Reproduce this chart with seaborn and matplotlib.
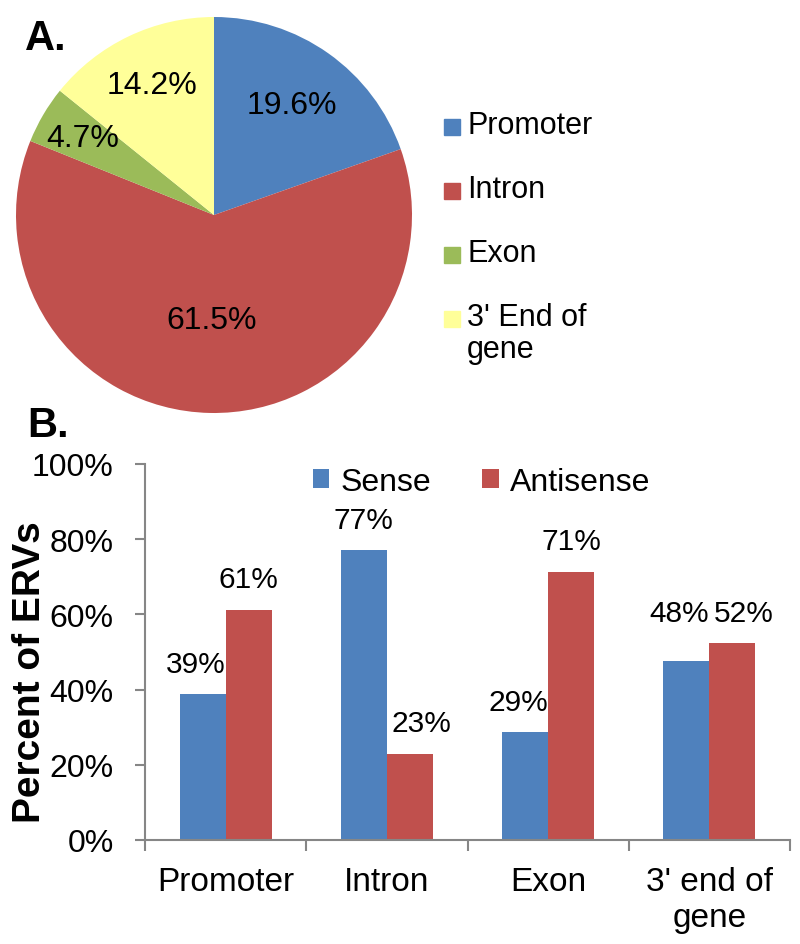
import matplotlib
matplotlib.use('Agg')
import matplotlib.pyplot as plt
from matplotlib.patches import Rectangle
from matplotlib.ticker import PercentFormatter, FixedLocator
import seaborn as sns
import pandas as pd
import numpy as np

# panel A: genomic location of ERVs
regions = ['Promoter', 'Intron', 'Exon', "3' End of\ngene"]
region_pct = [19.6, 61.5, 4.7, 14.2]
region_colors = ['#4F81BD', '#C0504D', '#9BBB59', '#FFFF99']

# panel B: orientation relative to gene
categories = ['Promoter', 'Intron', 'Exon', "3' end of\ngene"]
sense = [38.7, 77.0, 28.6, 47.6]
antisense = [61.3, 23.0, 71.4, 52.4]
strands = ['Sense', 'Antisense']
strand_colors = ['#4F81BD', '#C0504D']

sns.set_theme(style='white')
plt.rcParams['font.family'] = ['Liberation Sans', 'DejaVu Sans']
plt.rcParams['text.color'] = 'black'
plt.rcParams['axes.labelcolor'] = 'black'
plt.rcParams['xtick.color'] = 'black'
plt.rcParams['ytick.color'] = 'black'

W, H = 800, 945
fig = plt.figure(figsize=(8, 9.45), dpi=100)


def px(x, y, w, h):
    # pixel box (from top left) -> figure fraction rect
    return [x / W, 1 - (y + h) / H, w / W, h / H]


# ---- pie ----
ax_pie = fig.add_axes(px(16, 18, 396, 396))
wedges, _, autotexts = ax_pie.pie(region_pct, colors=region_colors, startangle=90,
                                  counterclock=False, autopct='%.1f%%', pctdistance=0.68,
                                  wedgeprops=dict(linewidth=0),
                                  textprops=dict(fontsize=23, color='black'))
label_r = [0.68, 0.53, 0.77, 0.73]
for w, t, r in zip(wedges, autotexts, label_r):
    ang = np.deg2rad((w.theta1 + w.theta2) / 2)
    t.set_position((r * np.cos(ang), r * np.sin(ang)))
ax_pie.set_xlim(-1, 1)
ax_pie.set_ylim(-1, 1)
ax_pie.set_aspect('equal')

# pie legend, drawn by hand so the square sits on the first line
row_y = 128
for name, col in zip(regions, region_colors):
    fig.patches.append(Rectangle((444 / W, 1 - (row_y + 8) / H), 16 / W, 16 / H,
                                 transform=fig.transFigure, color=col))
    fig.text(467 / W, 1 - (row_y - 17) / H, name, fontsize=22, va='top', ha='left',
             linespacing=1.1)
    row_y += 64

# ---- bars ----
df = pd.DataFrame({'region': categories * 2,
                   'strand': [strands[0]] * 4 + [strands[1]] * 4,
                   'pct': sense + antisense})

ax = fig.add_axes(px(145, 465, 645, 376))
sns.barplot(data=df, x='region', y='pct', hue='strand', palette=strand_colors,
            width=0.57, saturation=1, errorbar=None, linewidth=0, ax=ax)

ax.set_ylim(0, 100)
ax.set_xlim(-0.5, 3.5)
ax.set_yticks(range(0, 101, 20))
ax.yaxis.set_major_formatter(PercentFormatter(xmax=100, decimals=0))
ax.set_xlabel('')
ax.set_ylabel('')

gray = '#868686'
for s in ['top', 'right']:
    ax.spines[s].set_visible(False)
for s in ['left', 'bottom']:
    ax.spines[s].set_color(gray)
    ax.spines[s].set_linewidth(1.5)

ax.tick_params(axis='y', left=True, length=7.5, width=1.5, color=gray, pad=15,
               labelsize=23, labelcolor='black')
ax.xaxis.set_minor_locator(FixedLocator([-0.5, 0.5, 1.5, 2.5, 3.5]))
ax.tick_params(axis='x', which='minor', bottom=True, length=8, width=1.5, color=gray)
ax.tick_params(axis='x', which='major', bottom=True, length=0, pad=19,
               labelsize=24, labelcolor='black')

# value labels
lab_fs = 21.5
for bs, ba in zip(ax.containers[0], ax.containers[1]):
    hs, ha_ = bs.get_height(), ba.get_height()
    if abs(hs - ha_) < 10:
        y = max(hs, ha_) + 8
        ax.text(bs.get_x() + bs.get_width(), y, f'{round(hs)}%', ha='right', va='center', fontsize=lab_fs)
        ax.text(ba.get_x() + 0.03, y, f'{round(ha_)}%', ha='left', va='center', fontsize=lab_fs)
    elif hs < ha_:
        ax.text(bs.get_x() + bs.get_width(), hs + 8, f'{round(hs)}%', ha='right', va='center', fontsize=lab_fs)
        ax.text(ba.get_x() + ba.get_width() / 2, ha_ + 8, f'{round(ha_)}%', ha='center', va='center', fontsize=lab_fs)
    else:
        ax.text(bs.get_x() + bs.get_width() / 2, hs + 8, f'{round(hs)}%', ha='center', va='center', fontsize=lab_fs)
        ax.text(ba.get_x() + 0.03, ha_ + 8, f'{round(ha_)}%', ha='left', va='center', fontsize=lab_fs)

handles, labels = ax.get_legend_handles_labels()
ax.legend(handles, labels, loc='center', bbox_to_anchor=(0.522, 0.952), ncol=2,
          frameon=False, fontsize=23, handlelength=0.52, handleheight=0.52,
          handletextpad=0.35, columnspacing=1.6, borderpad=0)

fig.text(30 / W, 1 - 672 / H, 'Percent of ERVs', rotation=90, ha='center', va='center',
         fontsize=28, fontweight='bold')
fig.text(25 / W, 1 - 50 / H, 'A.', fontsize=30, fontweight='bold', va='baseline')
fig.text(27 / W, 1 - 437 / H, 'B.', fontsize=30, fontweight='bold', va='baseline')

fig.savefig('out.png', dpi=100)
